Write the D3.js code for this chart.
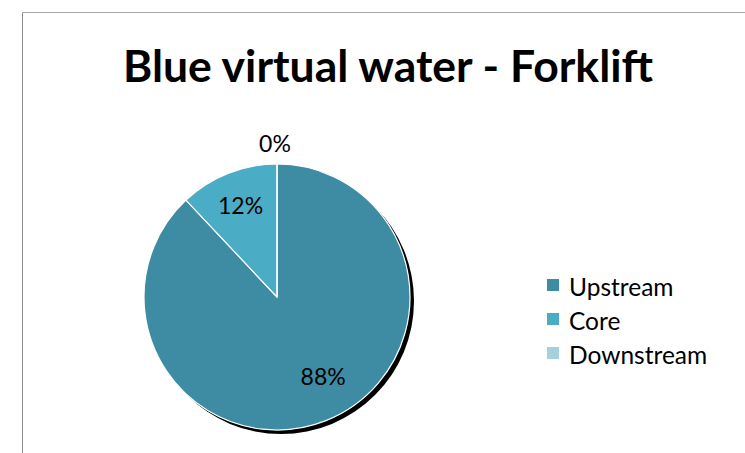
<!DOCTYPE html>
<html>
<head>
<meta charset="utf-8">
<script src="https://cdn.jsdelivr.net/npm/d3@7"></script>
<style>
  html, body { margin: 0; padding: 0; background: #fff; }
  svg { display: block; }
</style>
</head>
<body>
<div id="chart"></div>
<script>
const title = "Blue virtual water - Forklift";
const categories = ["Upstream", "Core", "Downstream"];
const values = [88, 12, 0];
const colors = ["#3e8ca4", "#4bacc6", "#a6d0de"];

const W = 745, H = 453;
const svg = d3.select("#chart").append("svg").attr("width", W).attr("height", H);

// chart area border (top and left visible)
svg.append("line").attr("x1", 22.5).attr("y1", 12.5).attr("x2", W).attr("y2", 12.5)
  .attr("stroke", "#a6a6a6").attr("stroke-width", 1);
svg.append("line").attr("x1", 22.5).attr("y1", 12.5).attr("x2", 22.5).attr("y2", H)
  .attr("stroke", "#8c8c8c").attr("stroke-width", 1);

// title
svg.append("text")
  .attr("x", 388).attr("y", 82)
  .attr("text-anchor", "middle")
  .attr("font-family", "Lato, 'Open Sans', sans-serif")
  .attr("font-weight", "bold")
  .attr("font-size", 44)
  .attr("textLength", 530)
  .attr("lengthAdjust", "spacingAndGlyphs")
  .attr("fill", "#000")
  .text(title);

const cx = 277, cy = 297, r = 133;
const data = categories.map((c, i) => ({ cat: c, value: values[i], color: colors[i] }));
const pie = d3.pie().value(d => d.value).sort(null);
const arcs = pie(data);
const arc = d3.arc().innerRadius(0).outerRadius(r);

const g = svg.append("g").attr("transform", `translate(${cx},${cy})`);

// shadow
g.append("circle").attr("cx", 4).attr("cy", 4).attr("r", r).attr("fill", "#000");

g.selectAll("path.slice").data(arcs).enter().append("path")
  .attr("class", "slice")
  .attr("d", arc)
  .attr("fill", d => d.data.color)
  .attr("stroke", "#fff")
  .attr("stroke-width", 1.2)
  .attr("stroke-linejoin", "round");

// labels
const total = d3.sum(values);
const fmt = d => Math.round(d.value / total * 100) + "%";
arcs.forEach((a, i) => {
  let x, y;
  const span = a.endAngle - a.startAngle;
  if (span < 0.01) {
    // zero-size slice: label outside the pie
    const ang = a.startAngle;
    x = Math.sin(ang) * (r + 21) - 2;
    y = -Math.cos(ang) * (r + 21);
  } else {
    // large slices get their label pulled toward the open side, as the source chart does
    let mid = (a.startAngle + a.endAngle) / 2;
    let rr = r * 0.745;
    if (span > Math.PI) { mid -= 0.15; rr = r * 0.69; }
    x = Math.sin(mid) * rr;
    y = -Math.cos(mid) * rr;
  }
  g.append("text")
    .attr("x", x).attr("y", y)
    .attr("text-anchor", "middle")
    .attr("dominant-baseline", "central")
    .attr("font-family", "Lato, 'Open Sans', sans-serif")
    .attr("font-size", 23)
    .attr("fill", "#000")
    .text(fmt(a));
});

// legend
const lg = svg.append("g").attr("transform", "translate(547,285)");
data.forEach((d, i) => {
  const row = lg.append("g").attr("transform", `translate(0,${i * 34})`);
  row.append("rect").attr("x", 0).attr("y", -6).attr("width", 12).attr("height", 12).attr("fill", d.color);
  row.append("text").attr("x", 22).attr("y", 1)
    .attr("dominant-baseline", "central")
    .attr("font-family", "Lato, 'Open Sans', sans-serif")
    .attr("font-size", 24.5)
    .attr("fill", "#000")
    .text(d.cat);
});
</script>
</body>
</html>
